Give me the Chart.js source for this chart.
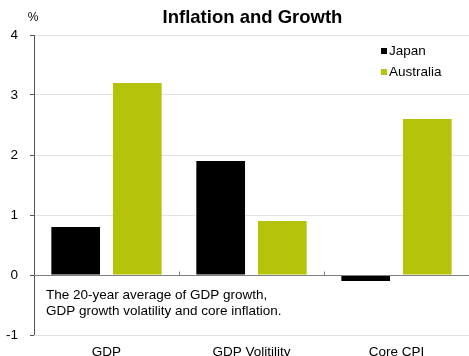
<!DOCTYPE html>
<html>
<head>
<meta charset="utf-8">
<script src="https://cdn.jsdelivr.net/npm/chart.js@4/dist/chart.umd.min.js"></script>
<style>
  html, body { margin: 0; padding: 0; background: #ffffff; }
  #wrap { width: 469px; height: 356px; }
</style>
</head>
<body>
<div id="wrap"><canvas id="inflationChart"></canvas></div>
<script>
// ## DATA ##
const categories = ["GDP", "GDP Volitility", "Core CPI"];
const japanValues = [0.8, 1.9, -0.1];
const australiaValues = [3.2, 0.9, 2.6];
const seriesNames = ["Japan", "Australia"];
const seriesColors = ["#000000", "#b5c30b"];
const yTicks = [-1, 0, 1, 2, 3, 4];
const chartTitle = "Inflation and Growth";
const noteLines = [
  "The 20-year average of GDP growth,",
  "GDP growth volatility and core inflation.",
];

const FONT = "'Liberation Sans', Arial, sans-serif";

// title, zero line, category ticks, note text, legend, unit label
const extrasPlugin = {
  id: "extras",
  afterDatasetsDraw(chart) {
    const ctx = chart.ctx;
    const area = chart.chartArea;
    const x = chart.scales.x;
    const y = chart.scales.y;
    const y0 = Math.round(y.getPixelForValue(0)) + 0.5;

    ctx.save();
    ctx.strokeStyle = "#808080";
    ctx.lineWidth = 1;
    ctx.beginPath();
    ctx.moveTo(area.left, y0);
    ctx.lineTo(area.right, y0);
    for (let i = 1; i < categories.length; i++) {
      const bx = Math.round((x.getPixelForValue(i - 1) + x.getPixelForValue(i)) / 2) + 0.5;
      ctx.moveTo(bx, y0);
      ctx.lineTo(bx, y0 - 4);
    }
    ctx.stroke();

    // title, centred over the plot
    ctx.fillStyle = "#000000";
    ctx.textBaseline = "middle";
    ctx.textAlign = "center";
    ctx.font = "bold 18.5px " + FONT;
    ctx.fillText(chartTitle, (area.left + area.right) / 2 + 1, 18);

    // note
    ctx.font = "13.5px " + FONT;
    ctx.textAlign = "left";
    noteLines.forEach((line, i) => {
      ctx.fillText(line, area.left + 12, 295 + i * 16);
    });

    // legend
    seriesNames.forEach((name, i) => {
      const ly = 51 + i * 21;
      ctx.fillStyle = seriesColors[i];
      ctx.fillRect(381, ly - 3, 6, 6);
      ctx.fillStyle = "#000000";
      ctx.fillText(name, 389, ly);
    });

    // unit
    ctx.font = "12px " + FONT;
    ctx.textAlign = "center";
    ctx.fillText("%", 33, 18);
    ctx.restore();
  },
};

const ctx = document.getElementById("inflationChart").getContext("2d");
window.inflationChart = new Chart(ctx, {
  type: "bar",
  data: {
    labels: categories,
    datasets: [
      {
        label: seriesNames[0],
        data: japanValues,
        backgroundColor: seriesColors[0],
        borderWidth: 0,
      },
      {
        label: seriesNames[1],
        data: australiaValues,
        backgroundColor: seriesColors[1],
        borderWidth: 0,
      },
    ],
  },
  options: {
    responsive: true,
    maintainAspectRatio: false,
    animation: false,
    layout: { padding: { left: 0, right: 0, top: 35, bottom: 0 } },
    datasets: {
      bar: { categoryPercentage: 0.85, barPercentage: 0.79 },
    },
    plugins: {
      legend: { display: false },
      tooltip: { enabled: false },
      title: { display: false },
    },
    scales: {
      y: {
        min: -1,
        max: 4,
        afterBuildTicks: (axis) => {
          axis.ticks = yTicks.map((v) => ({ value: v }));
        },
        afterFit: (axis) => {
          axis.width = 34;
        },
        ticks: {
          color: "#000000",
          font: { family: FONT, size: 13.5 },
          padding: 12,
        },
        grid: {
          color: "#e3e3e3",
          tickColor: "#555555",
          tickLength: 4,
          lineWidth: 1,
        },
        border: { color: "#555555", width: 1 },
      },
      x: {
        afterFit: (axis) => {
          axis.height = 21;
        },
        ticks: {
          color: "#000000",
          font: { family: FONT, size: 13.5 },
          padding: 1,
        },
        grid: { display: false },
        border: { color: "#e0e0e0", width: 1 },
      },
    },
  },
  plugins: [extrasPlugin],
});
</script>
</body>
</html>
